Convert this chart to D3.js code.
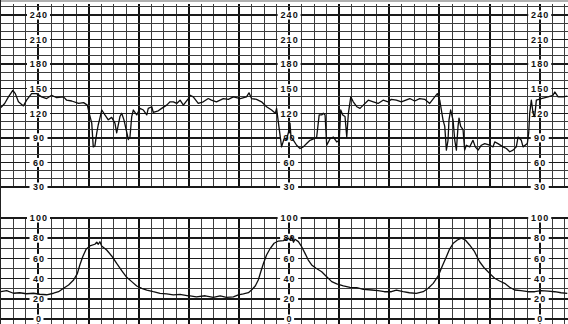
<!DOCTYPE html>
<html>
<head>
<meta charset="utf-8">
<script src="https://cdn.jsdelivr.net/npm/d3@7"></script>
<style>
  body { margin: 0; background: #fff; }
  svg { display: block; }
</style>
</head>
<body>
<div id="chart"></div>
<script>
/** CTG strip: fetal heart rate (top) and uterine activity (bottom) **/

// tick labels of both panels
var bpmTicks = [30, 60, 90, 120, 150, 180, 210, 240];
var tocoTicks = [0, 20, 40, 60, 80, 100];
// time (s) of the three label columns
var labelCols = [30, 230, 430];

// fetal heart rate, [time s, bpm]
var fhrTrace = [
  [0,127],[3,132],[6,140],[9.5,148],[11.5,144],[14,134],[18,129],[20.5,136],[24.5,144],[28.5,144],
  [32.5,140],[36.5,138],[40.5,142],[44.5,139],[50,140],[52.5,136],[56.5,135],[62,132],[66,133],[69,130],
  [70.5,120],[72.5,108],[73.7,79],[75,80],[76.5,96],[77.7,106],[79,114],[80.5,124],[83,118],[85.7,112],
  [88.4,115],[91,108],[92.4,96],[95,116],[96.4,120],[98.2,112],[100.4,97],[101.7,88],[103,91],[104.4,116],
  [105.7,124],[108.4,118],[111,126],[113.7,124],[116.4,118],[117.6,126],[120.4,128],[121.6,121],[125.6,123],
  [128.3,126],[132.3,130],[135,134],[137.6,134],[140.3,132],[143,136],[145.6,130],[149.6,138],
  [151,142],[153.5,140],[157.5,132],[161.5,134],[165.5,138],[168,136],[172,134],[177.5,138],[181.5,137],
  [185.5,140],[191,138],[196,140],[198,145],[200,138],[204,137],[208,134],[212,128],[216,124],[219,120],
  [220,126],[221.5,108],[224,79],[226,89],[228,88],[229.5,97],[230.7,108],[231.5,91],[233.5,87],[236,81],
  [238.7,77],[241.3,79],[244,83],[246.7,87],[250,89],[252,91],[254,118],[256,118],[257.3,120],[258.7,118],
  [260,81],[262.7,89],[265.3,91],[268,85],[270,87],[271.2,124],[272.8,118],[274.6,116],[276,91],[277.3,120],
  [279.2,140],[281.2,134],[284,128],[286.6,126],[289.2,130],[293.2,136],[297.2,134],[301,132],
  [305,136],[309,134],[311.6,137],[315.6,136],[319.6,134],[326.3,138],[330.2,135],[334.2,138],[338.2,137],
  [342.2,132],[346.2,140],[348.3,144],[350.2,136],[351.5,124],[352.8,112],[354.2,104],[355.5,75],[356.8,87],
  [357.6,112],[358.9,124],[360.8,112],[362.2,87],[363.5,75],[364.8,104],[365.6,114],[366.9,104],[368.8,100],
  [370.1,75],[371.4,81],[374.1,79],[376.7,87],[378.6,79],[380.8,75],[383.4,81],[386.1,83],[390.1,81],
  [392.7,79],[394.1,85],[396.7,83],[400.7,79],[403.4,77],[406.1,73],[408.7,75],[411.3,79],[412.7,91],
  [415.3,87],[416.7,79],[420.1,83],[421.2,96],[422,120],[423.3,136],[424.7,120],[426,116],[427.3,136],
  [431.3,138],[436.6,140],[440.6,142],[442,146],[444.7,140],[448.6,140],[452,141]
];

// uterine activity, [time s, value]
var tocoTrace = [
  [0,27],[4.6,28],[10,25.5],[15,26],[20.5,25],[26,25.5],[31,24.5],[36.5,24],[42,25.5],[46,27],
  [50,30.5],[54,33.7],[58,38.6],[61,45],[63,53.5],[65.3,61.7],[68,69],[71,72.3],[75,74],[76.5,76],
  [77.7,74],[79,76.5],[80.4,72.3],[84.4,68.3],[88.4,62.4],[92.4,55],[96.4,48],[100.4,41.3],[104.4,37],
  [108.4,32.7],[112.4,30.4],[116.4,28.7],[121.6,27],[127,25.4],[132.3,24.8],[137.6,23.8],[143,24.4],[149.6,23],
  [151,22.8],[156,22],[163,23],[169.5,21.5],[175,22.8],[180,21.5],[185.5,22],[189.5,23.8],[193.5,24.8],
  [197.5,26],[200,28.7],[203,32.7],[205.4,38.6],[207.4,46.8],[209.5,55],[212,63.4],[215,70],[218,75],
  [221.4,77.2],[225.4,77.6],[229.4,80],[231,78],[232.1,81.5],[233.5,76],[234.7,79],[237.4,76.6],[240,71.6],
  [242.7,65],[245.3,58.4],[248,53.5],[251.5,50.2],[256,46.8],[260,41.9],[264,37],[268,34.7],[273.3,32.7],
  [278.6,31.4],[284,31],[289.2,29.4],[296,28.7],[301,28],
  [306,27],[311.6,27],[315.6,28.7],[321,27],[326,26],[331.5,25.4],[337,27],[341,30.4],[345,35.3],
  [349,42.6],[352,51.8],[355.5,61.7],[358,69],[361,75],[364.3,78.2],[367.4,80],[370.6,78.2],[374,73.3],
  [378,66.6],[382,56.7],[386,50.2],[390,45.2],[394,40.3],[398,37.6],[402,35.3],[406,31.4],[410,28.7],
  [415,28],[420.7,27],[426,27],[431,28],[436.6,27.6],[442,27],[447,26],[452,25.4]
];

var width = 568, height = 324;

var x = d3.scaleLinear().domain([0, 452]).range([0.9, 567.3]);
var yTop = d3.scaleLinear().domain([30, 240]).range([187, 15]);
var yBot = d3.scaleLinear().domain([0, 100]).range([319, 218]);

var svg = d3.select("#chart").append("svg")
    .attr("width", width)
    .attr("height", height)
    .style("background", "#fff");

// grey edge of the paper at the top
svg.append("rect").attr("x", 0).attr("y", 0).attr("width", width).attr("height", 2).attr("fill", "#b0b0b0");

var grid = svg.append("g").attr("shape-rendering", "crispEdges");

// vertical grid, every 10 s, heavier every 40 s
function isThick(t) { return (t - 30) % 40 === 0; }
var times = d3.range(0, 451, 10);

function vLines(y0, y1) {
    grid.append("g").selectAll("line").data(times).enter().append("line")
        .attr("x1", function(d){return x(d);})
        .attr("x2", function(d){return x(d);})
        .attr("y1", y0)
        .attr("y2", y1)
        .attr("stroke", function(d){return isThick(d) ? "#111" : "#3c3c3c";})
        .attr("stroke-width", function(d){return isThick(d) ? 2 : 1;});
}
vLines(yTop(253.5), yTop(30));
vLines(yBot(101), height);

// horizontal grid
grid.append("g").selectAll("line").data(d3.range(30, 251, 10)).enter().append("line")
    .attr("x1", 0).attr("x2", width)
    .attr("y1", function(d){return yTop(d);})
    .attr("y2", function(d){return yTop(d);})
    .attr("stroke", function(d){return d % 30 === 0 ? "#1a1a1a" : "#3c3c3c";})
    .attr("stroke-width", function(d){return d % 30 === 0 ? 1.5 : 1;});

grid.append("g").selectAll("line").data(d3.range(0, 101, 10)).enter().append("line")
    .attr("x1", 0).attr("x2", width)
    .attr("y1", function(d){return yBot(d);})
    .attr("y2", function(d){return yBot(d);})
    .attr("stroke", function(d){return d % 20 === 0 ? "#1a1a1a" : "#3c3c3c";})
    .attr("stroke-width", function(d){return d % 20 === 0 ? 1.5 : 1;});

// left border of the strip
grid.append("line").attr("x1", 0.5).attr("x2", 0.5).attr("y1", 0).attr("y2", height)
    .attr("stroke", "#222").attr("stroke-width", 1.5);

// scale labels in the three label columns
function labels(ticks, y) {
    labelCols.forEach(function(t) {
        var g = svg.append("g").selectAll("g").data(ticks).enter().append("g")
            .attr("transform", function(d){return "translate(" + x(t) + "," + y(d) + ")";});
        g.append("rect")
            .attr("x", function(d){return d >= 100 ? -11.5 : (d < 10 ? -5 : -9);})
            .attr("y", -4.5)
            .attr("width", function(d){return d >= 100 ? 23 : (d < 10 ? 10 : 18);})
            .attr("height", 9)
            .attr("fill", "#fff");
        g.append("text")
            .attr("text-anchor", "middle")
            .attr("dy", "0.36em")
            .attr("dx", 0.5)
            .style("font-family", "'Liberation Sans', Arial, sans-serif")
            .style("font-weight", "bold")
            .style("font-size", "9px")
            .style("letter-spacing", "1.1px")
            .attr("fill", "#111")
            .text(function(d){return d;});
    });
}
labels(bpmTicks, yTop);
labels(tocoTicks, yBot);

// traces
var fhrLine = d3.line().x(function(d){return x(d[0]);}).y(function(d){return yTop(d[1]);});
var tocoLine = d3.line().x(function(d){return x(d[0]);}).y(function(d){return yBot(d[1]);});

svg.append("path").datum(fhrTrace)
    .attr("d", fhrLine)
    .attr("fill", "none")
    .attr("stroke", "#0d0d0d")
    .attr("stroke-width", 1.3)
    .attr("stroke-linejoin", "round");

svg.append("path").datum(tocoTrace)
    .attr("d", tocoLine)
    .attr("fill", "none")
    .attr("stroke", "#0d0d0d")
    .attr("stroke-width", 1.3)
    .attr("stroke-linejoin", "round");
</script>
</body>
</html>
